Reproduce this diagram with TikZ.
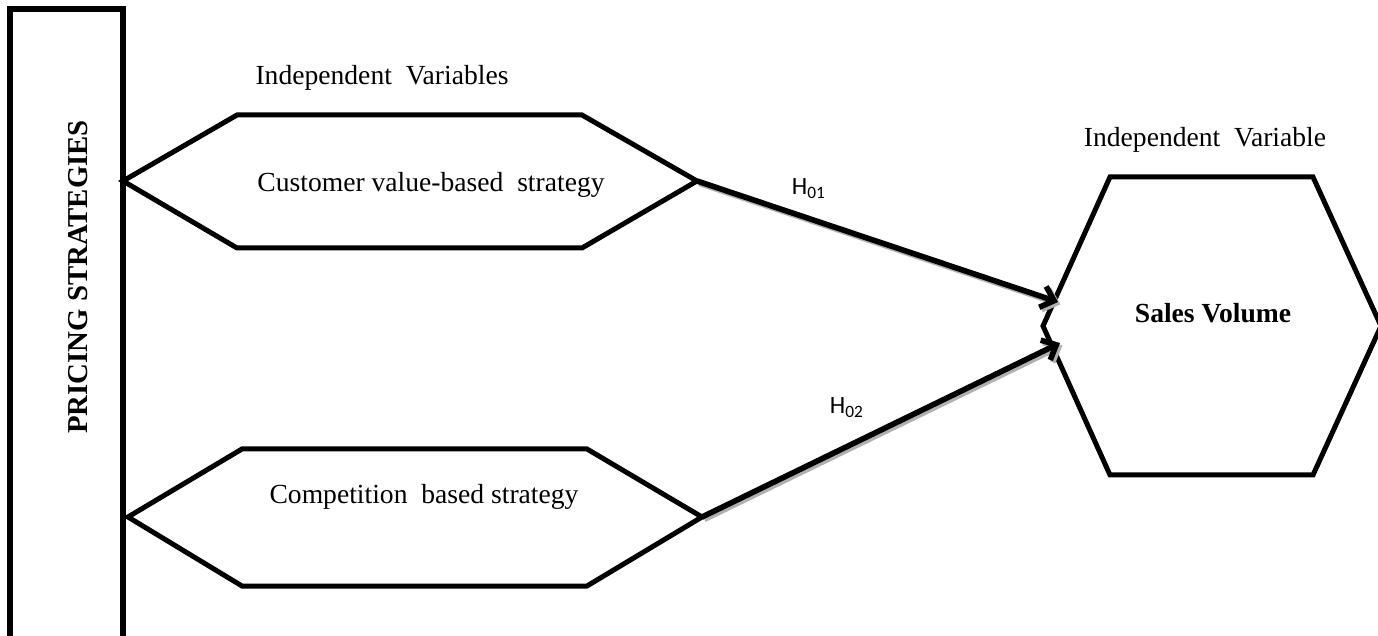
\documentclass[tikz,border=0pt]{standalone}
\usepackage{fontspec}
\setmainfont{Liberation Serif}
\newfontfamily\labelfont{Carlito}
\usetikzlibrary{arrows.meta}

\begin{document}
\begin{tikzpicture}[x=0.5pt, y=-0.5pt,
    every node/.style={inner sep=0pt, font=\fontsize{13.8}{16}\selectfont},
    outline/.style={draw=borderColour, line width=2.5pt, line join=miter},
    hyparrow/.style={draw=borderColour, line width=2.8pt, -{Straight Barb[length=6pt,width=11pt]},
        preaction={draw=shadowColour, line width=2.8pt, transform canvas={shift={(1.2pt,-1.2pt)}}}},
    hyplabel/.style={anchor=base, font=\labelfont\fontsize{12.4}{14}\selectfont}]
    \definecolor{borderColour}{HTML}{000000}
    \definecolor{shadowColour}{HTML}{B0B0B0}

    \useasboundingbox (0,0) rectangle (1378,636);
    \clip (0,0) rectangle (1378,636);

    % Left bar
    \draw[outline, line width=2.8pt] (10,9) rectangle (123,680);
    \node[rotate=90] (psText) at (78,277) {\fontsize{14.4}{16}\selectfont\bfseries PRICING STRATEGIES};

    % Hexagon 1: customer value-based
    \coordinate (A1) at (123,181);
    \coordinate (B1) at (237,115);
    \coordinate (C1) at (582,115);
    \coordinate (D1) at (697,181);
    \coordinate (E1) at (582,248);
    \coordinate (F1) at (237,248);
    \draw[outline] (A1) -- (B1) -- (C1) -- (D1) -- (E1) -- (F1) -- cycle;
    \node[anchor=base] (cvText) at (431,192) {Customer value-based\ \ strategy};

    % Hexagon 2: competition based
    \coordinate (A2) at (128,517);
    \coordinate (B2) at (242,449);
    \coordinate (C2) at (587,449);
    \coordinate (D2) at (702,517);
    \coordinate (E2) at (587,586);
    \coordinate (F2) at (242,586);
    \draw[outline] (A2) -- (B2) -- (C2) -- (D2) -- (E2) -- (F2) -- cycle;
    \node[anchor=base] (cbText) at (424,503) {Competition\ \ based strategy};

    % Hexagon 3: sales volume
    \coordinate (A3) at (1043,326);
    \coordinate (B3) at (1110,177);
    \coordinate (C3) at (1313,177);
    \coordinate (D3) at (1381,326);
    \coordinate (E3) at (1313,475);
    \coordinate (F3) at (1110,475);
    \draw[outline] (A3) -- (B3) -- (C3) -- (D3) -- (E3) -- (F3) -- cycle;
    \node[anchor=base] (svText) at (1213,323) {\bfseries Sales Volume};

    % Headings
    \node[anchor=base] (ivLabel) at (382,85) {Independent\ \ Variables};
    \node[anchor=base] (dvLabel) at (1205,147) {Independent\ \ Variable};

    % Hypotheses
    \coordinate (S1) at (1058,302);
    \coordinate (S2) at (1060,343);
    \draw[hyparrow] (D1) -- (S1);
    \draw[hyparrow] (D2) -- (S2);
    \node[hyplabel] (hOne) at (809,195) {H\textsubscript{01}};
    \node[hyplabel] (hTwo) at (847,414) {H\textsubscript{02}};

\end{tikzpicture}
\end{document}
